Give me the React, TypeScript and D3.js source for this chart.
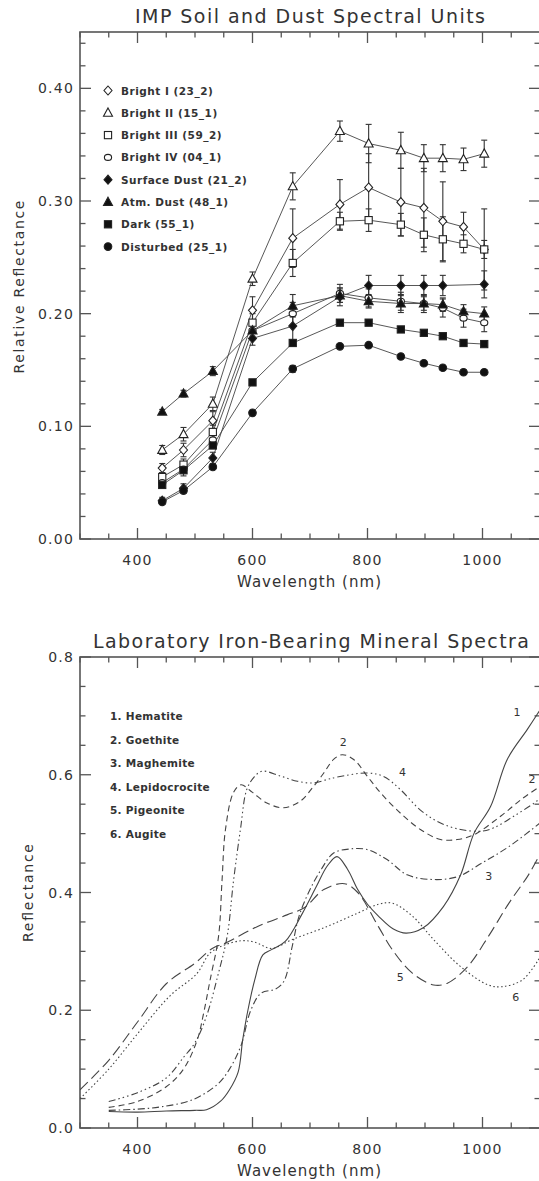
import React from 'react';
import * as d3 from 'd3';

// ---------- Top chart data: IMP soil and dust spectral units ----------
const impWavelengths = [443, 480, 531, 600, 670, 752, 802, 858, 898, 931, 967, 1003];

const unitNames = [
  'Bright I (23_2)',
  'Bright II (15_1)',
  'Bright III (59_2)',
  'Bright IV (04_1)',
  'Surface Dust (21_2)',
  'Atm. Dust (48_1)',
  'Dark (55_1)',
  'Disturbed (25_1)',
];
const unitSymbols = ['diamond', 'triangle', 'square', 'circle', 'diamond', 'triangle', 'square', 'circle'];
const unitFilled = [false, false, false, false, true, true, true, true];

const brightI = [0.063, 0.079, 0.105, 0.203, 0.267, 0.297, 0.312, 0.299, 0.294, 0.282, 0.277, 0.257];
const brightII = [0.079, 0.093, 0.12, 0.231, 0.313, 0.362, 0.351, 0.345, 0.338, 0.338, 0.337, 0.342];
const brightIII = [0.055, 0.066, 0.095, 0.192, 0.245, 0.282, 0.283, 0.279, 0.27, 0.266, 0.262, 0.257];
const brightIV = [0.05, 0.062, 0.088, 0.185, 0.2, 0.218, 0.214, 0.211, 0.209, 0.205, 0.196, 0.192];
const surfaceDust = [0.034, 0.045, 0.072, 0.178, 0.189, 0.215, 0.225, 0.225, 0.225, 0.225, null, 0.226];
const atmDust = [0.113, 0.129, 0.149, 0.185, 0.207, 0.216, 0.211, 0.209, 0.209, 0.208, 0.202, 0.2];
const dark = [0.048, 0.061, 0.083, 0.139, 0.174, 0.192, 0.192, 0.186, 0.183, 0.18, 0.174, 0.173];
const disturbed = [0.033, 0.043, 0.064, 0.112, 0.151, 0.171, 0.172, 0.162, 0.156, 0.152, 0.148, 0.148];

const brightIErr = [0.004, 0.006, 0.008, 0.012, 0.026, 0.022, 0.03, 0.03, 0.035, 0.035, 0.013, 0.036];
const brightIIErr = [0.004, 0.006, 0.006, 0.006, 0.012, 0.009, 0.017, 0.016, 0.012, 0.012, 0.01, 0.012];
const brightIIIErr = [0.004, 0.005, 0.006, 0.008, 0.012, 0.008, 0.01, 0.01, 0.015, 0.02, 0.008, 0.008];
const brightIVErr = [0.004, 0.006, 0.006, 0.008, 0.01, 0.008, 0.008, 0.008, 0.008, 0.008, 0.008, 0.008];
const surfaceDustErr = [0.003, 0.004, 0.005, 0.006, 0.015, 0.008, 0.009, 0.009, 0.009, 0.009, 0, 0.012];
const atmDustErr = [0.002, 0.003, 0.004, 0.005, 0.01, 0.006, 0.006, 0.008, 0.006, 0.006, 0.006, 0.006];
const darkErr = [0.002, 0.002, 0.002, 0.002, 0.002, 0.002, 0.002, 0.002, 0.002, 0.002, 0.002, 0.002];
const disturbedErr = [0.002, 0.002, 0.002, 0.002, 0.003, 0.002, 0.002, 0.002, 0.002, 0.002, 0.002, 0.002];

const unitValues = [brightI, brightII, brightIII, brightIV, surfaceDust, atmDust, dark, disturbed];
const unitErrors = [brightIErr, brightIIErr, brightIIIErr, brightIVErr, surfaceDustErr, atmDustErr, darkErr, disturbedErr];

const topYMajor = [0, 0.1, 0.2, 0.3, 0.4];
const xMajor = [400, 600, 800, 1000];

// ---------- Bottom chart data: laboratory iron-bearing mineral spectra ----------
const mineralNames = ['1. Hematite', '2. Goethite', '3. Maghemite', '4. Lepidocrocite', '5. Pigeonite', '6. Augite'];
const mineralDash = ['', '6,4', '7,3,1.5,3', '7,3,1.5,3,1.5,3,1.5,3', '11,5', '1.5,2.5'];

const hematite: [number, number][] = [
  [350, 0.028], [400, 0.027], [450, 0.029], [500, 0.03], [520, 0.031], [545, 0.046], [560, 0.065],
  [575, 0.095], [583, 0.15], [592, 0.2], [604, 0.252], [618, 0.294], [633, 0.303], [657, 0.317],
  [687, 0.365], [711, 0.41], [730, 0.445], [747, 0.461], [765, 0.44], [783, 0.405], [800, 0.38],
  [819, 0.36], [845, 0.338], [867, 0.331], [897, 0.34], [932, 0.376], [962, 0.43], [985, 0.5],
  [1014, 0.546], [1043, 0.626], [1078, 0.677], [1100, 0.71],
];
const goethite: [number, number][] = [
  [350, 0.035], [400, 0.045], [450, 0.07], [480, 0.1], [504, 0.15], [515, 0.195], [526, 0.25],
  [541, 0.326], [547, 0.42], [553, 0.507], [567, 0.57], [580, 0.583], [600, 0.57], [625, 0.552],
  [654, 0.544], [683, 0.555], [706, 0.58], [724, 0.603], [741, 0.626], [756, 0.634], [776, 0.626],
  [800, 0.597], [823, 0.569], [857, 0.535], [892, 0.507], [927, 0.49], [956, 0.49], [985, 0.498],
  [1032, 0.53], [1070, 0.56], [1100, 0.58],
];
const maghemite: [number, number][] = [
  [350, 0.03], [400, 0.032], [441, 0.036], [496, 0.048], [540, 0.075], [560, 0.1], [580, 0.14],
  [597, 0.2], [615, 0.229], [640, 0.236], [655, 0.25], [669, 0.308], [681, 0.36], [700, 0.405],
  [720, 0.44], [741, 0.467], [770, 0.474], [799, 0.473], [834, 0.456], [869, 0.43], [915, 0.422],
  [957, 0.427], [999, 0.45], [1046, 0.478], [1100, 0.518],
];
const lepidocrocite: [number, number][] = [
  [350, 0.045], [400, 0.06], [450, 0.085], [480, 0.12], [500, 0.145], [520, 0.19], [540, 0.26],
  [556, 0.326], [567, 0.42], [579, 0.507], [590, 0.575], [602, 0.595], [616, 0.606], [648, 0.598],
  [678, 0.589], [706, 0.586], [730, 0.592], [747, 0.596], [800, 0.603], [828, 0.597], [857, 0.575],
  [892, 0.54], [927, 0.518], [962, 0.507], [997, 0.504], [1020, 0.51], [1055, 0.53], [1090, 0.552],
  [1100, 0.56],
];
const pigeonite: [number, number][] = [
  [300, 0.065], [350, 0.115], [400, 0.18], [450, 0.245], [500, 0.28], [530, 0.305], [555, 0.315],
  [608, 0.342], [660, 0.362], [690, 0.374], [724, 0.405], [760, 0.415], [783, 0.4], [819, 0.342],
  [843, 0.303], [878, 0.263], [915, 0.243], [939, 0.246], [974, 0.274], [1010, 0.325], [1046, 0.382],
  [1080, 0.43], [1100, 0.465],
];
const augite: [number, number][] = [
  [300, 0.05], [350, 0.1], [400, 0.16], [457, 0.225], [503, 0.262], [526, 0.297], [549, 0.31],
  [580, 0.318], [603, 0.316], [633, 0.305], [669, 0.32], [729, 0.342], [783, 0.365], [819, 0.38],
  [843, 0.382], [878, 0.36], [915, 0.32], [962, 0.274], [1010, 0.243], [1034, 0.24], [1070, 0.252],
  [1100, 0.29],
];
const mineralSpectra = [hematite, goethite, maghemite, lepidocrocite, pigeonite, augite];

const curveLabelText = ['1', '2', '4', '3', '5', '6', '2'];
const curveLabelWave = [1060, 758, 861, 1011, 857, 1058, 1086];
const curveLabelRefl = [0.707, 0.656, 0.605, 0.427, 0.257, 0.223, 0.592];

const botYMajor = [0, 0.2, 0.4, 0.6, 0.8];

// ---------- Layout ----------
const W = 539;
const H = 1181;
const FONT = 'DejaVu Sans';
const TXT = '#333';
const AX = '#555';
const LINE = '#444';

const xTop = d3.scaleLinear().domain([300, 1100]).range([80, 540]);
const yTop = d3.scaleLinear().domain([0, 0.45]).range([539, 32]);
const xBot = d3.scaleLinear().domain([300, 1100]).range([80, 540]);
const yBot = d3.scaleLinear().domain([0, 0.8]).range([1128, 657]);

function Frame({ x, y, yMajor, yMinor, fmt }: any) {
  const [x0, x1] = x.range();
  const [yb, yt] = y.range();
  const xMinor = d3.range(300, 1101, 50);
  const els: any[] = [];
  xMinor.forEach((v: number, i: number) => {
    const L = xMajor.includes(v) ? 11 : 5.5;
    const px = x(v);
    els.push(<line key={'xb' + i} x1={px} x2={px} y1={yb} y2={yb - L} stroke={AX} strokeWidth={1.3} />);
    els.push(<line key={'xt' + i} x1={px} x2={px} y1={yt} y2={yt + L} stroke={AX} strokeWidth={1.3} />);
  });
  yMinor.forEach((v: number, i: number) => {
    const isMaj = yMajor.some((m: number) => Math.abs(m - v) < 1e-6);
    const L = isMaj ? 11 : 5.5;
    const py = y(v);
    els.push(<line key={'yl' + i} x1={x0} x2={x0 + L} y1={py} y2={py} stroke={AX} strokeWidth={1.3} />);
    els.push(<line key={'yr' + i} x1={x1} x2={x1 - L} y1={py} y2={py} stroke={AX} strokeWidth={1.3} />);
  });
  return (
    <g>
      <rect x={x0} y={yt} width={x1 - x0} height={yb - yt} fill="none" stroke={AX} strokeWidth={1.6} />
      {els}
      {yMajor.map((v: number, i: number) => (
        <text key={'yt' + i} x={74} y={y(v) + 5} textAnchor="end" fontFamily={FONT} fontSize={14}
          letterSpacing={1.2} fill={TXT}>{fmt(v)}</text>
      ))}
      {xMajor.map((v: number, i: number) => (
        <text key={'xt' + i} x={x(v)} y={yb + 26} textAnchor="middle" fontFamily={FONT} fontSize={14}
          letterSpacing={1.2} fill={TXT}>{String(v)}</text>
      ))}
    </g>
  );
}

function Marker({ type, filled, cx, cy }: any) {
  const fill = filled ? '#111' : '#fff';
  const stroke = '#222';
  const sw = 1.1;
  if (type === 'diamond') {
    const p = `${cx},${cy - 4.5} ${cx + 4},${cy} ${cx},${cy + 4.5} ${cx - 4},${cy}`;
    return <polygon points={p} fill={fill} stroke={stroke} strokeWidth={sw} />;
  }
  if (type === 'triangle') {
    const p = `${cx},${cy - 4.8} ${cx + 4.5},${cy + 3.4} ${cx - 4.5},${cy + 3.4}`;
    return <polygon points={p} fill={fill} stroke={stroke} strokeWidth={sw} />;
  }
  if (type === 'square') {
    return <rect x={cx - 3.6} y={cy - 3.6} width={7.2} height={7.2} fill={fill} stroke={stroke} strokeWidth={sw} />;
  }
  return <ellipse cx={cx} cy={cy} rx={filled ? 3.8 : 3.6} ry={filled ? 3.8 : 3} fill={fill} stroke={stroke} strokeWidth={sw} />;
}

function TopChart() {
  const yMinor = d3.range(0, 0.4501, 0.02).map((v) => +v.toFixed(2));
  const line = d3.line<[number, number]>().x((d) => xTop(d[0])).y((d) => yTop(d[1]));
  return (
    <g>
      <text x={310} y={23} textAnchor="middle" fontFamily={FONT} fontSize={19} textLength={350}
        lengthAdjust="spacing" fill={TXT}>IMP Soil and Dust Spectral Units</text>
      <Frame x={xTop} y={yTop} yMajor={topYMajor} yMinor={yMinor} fmt={d3.format('.2f')} />
      {unitValues.map((vals, si) => {
        const pts = impWavelengths
          .map((w, i) => [w, vals[i]] as [number, any])
          .filter((d) => d[1] !== null) as [number, number][];
        return <path key={'l' + si} d={line(pts) || ''} fill="none" stroke={LINE} strokeWidth={0.9} />;
      })}
      {unitValues.map((vals, si) => (
        <g key={'e' + si}>
          {impWavelengths.map((w, i) => {
            const v = vals[i];
            const e = unitErrors[si][i];
            if (v === null || !e) return null;
            const px = xTop(w);
            const ya = yTop(v + e);
            const yb = yTop(v - e);
            return (
              <g key={i}>
                <line x1={px} x2={px} y1={ya} y2={yb} stroke="#333" strokeWidth={1.1} />
                <line x1={px - 3} x2={px + 3} y1={ya} y2={ya} stroke="#333" strokeWidth={1.1} />
                <line x1={px - 3} x2={px + 3} y1={yb} y2={yb} stroke="#333" strokeWidth={1.1} />
              </g>
            );
          })}
        </g>
      ))}
      {unitValues.map((vals, si) => (
        <g key={'m' + si}>
          {impWavelengths.map((w, i) =>
            vals[i] === null ? null : (
              <Marker key={i} type={unitSymbols[si]} filled={unitFilled[si]} cx={xTop(w)} cy={yTop(vals[i] as number)} />
            ),
          )}
        </g>
      ))}
      {unitNames.map((n, i) => (
        <g key={'lg' + i}>
          <Marker type={unitSymbols[i]} filled={unitFilled[i]} cx={108} cy={90.5 + i * 22.3} />
          <text x={121} y={90.5 + i * 22.3 + 4} fontFamily={FONT} fontSize={10.5} fontWeight="bold"
            letterSpacing={0.5} fill={TXT}>{n}</text>
        </g>
      ))}
      <text x={309} y={587} textAnchor="middle" fontFamily={FONT} fontSize={15} textLength={144}
        lengthAdjust="spacing" fill={TXT}>Wavelength (nm)</text>
      <text transform="translate(24,287) rotate(-90)" textAnchor="middle" fontFamily={FONT} fontSize={14}
        textLength={173} lengthAdjust="spacing" fill={TXT}>Relative Reflectance</text>
    </g>
  );
}

function BottomChart() {
  const yMinor = d3.range(0, 0.8001, 0.05).map((v) => +v.toFixed(2));
  const line = d3.line<[number, number]>().x((d) => xBot(d[0])).y((d) => yBot(d[1])).curve(d3.curveCatmullRom.alpha(0.5));
  const [x0, x1] = xBot.range();
  const [yb, yt] = yBot.range();
  return (
    <g>
      <defs>
        <clipPath id="botclip">
          <rect x={x0} y={yt} width={x1 - x0} height={yb - yt} />
        </clipPath>
      </defs>
      <text x={311} y={648} textAnchor="middle" fontFamily={FONT} fontSize={19} textLength={436}
        lengthAdjust="spacing" fill={TXT}>Laboratory Iron-Bearing Mineral Spectra</text>
      <Frame x={xBot} y={yBot} yMajor={botYMajor} yMinor={yMinor} fmt={d3.format('.1f')} />
      <g clipPath="url(#botclip)">
        {mineralSpectra.map((s, i) => (
          <path key={i} d={line(s) || ''} fill="none" stroke={LINE} strokeWidth={1.1}
            strokeDasharray={mineralDash[i] || undefined} />
        ))}
      </g>
      {curveLabelText.map((t, i) => (
        <text key={'cl' + i} x={xBot(curveLabelWave[i])} y={yBot(curveLabelRefl[i])} dy="0.35em"
          textAnchor="middle" fontFamily={FONT} fontSize={11} fill={TXT}>{t}</text>
      ))}
      {mineralNames.map((n, i) => (
        <text key={'ml' + i} x={110} y={716 + i * 23.6 + 4} fontFamily={FONT} fontSize={10.5}
          fontWeight="bold" letterSpacing={0.3} fill={TXT}>{n}</text>
      ))}
      <text x={309} y={1176} textAnchor="middle" fontFamily={FONT} fontSize={15} textLength={144}
        lengthAdjust="spacing" fill={TXT}>Wavelength (nm)</text>
      <text transform="translate(33,893) rotate(-90)" textAnchor="middle" fontFamily={FONT} fontSize={14}
        textLength={98} lengthAdjust="spacing" fill={TXT}>Reflectance</text>
    </g>
  );
}

export default function App() {
  return (
    <>
      <style>{'body{margin:0}'}</style>
      <svg width={W} height={H} viewBox={`0 0 ${W} ${H}`} style={{ display: 'block', background: '#fff' }}>
        <TopChart />
        <BottomChart />
      </svg>
    </>
  );
}
